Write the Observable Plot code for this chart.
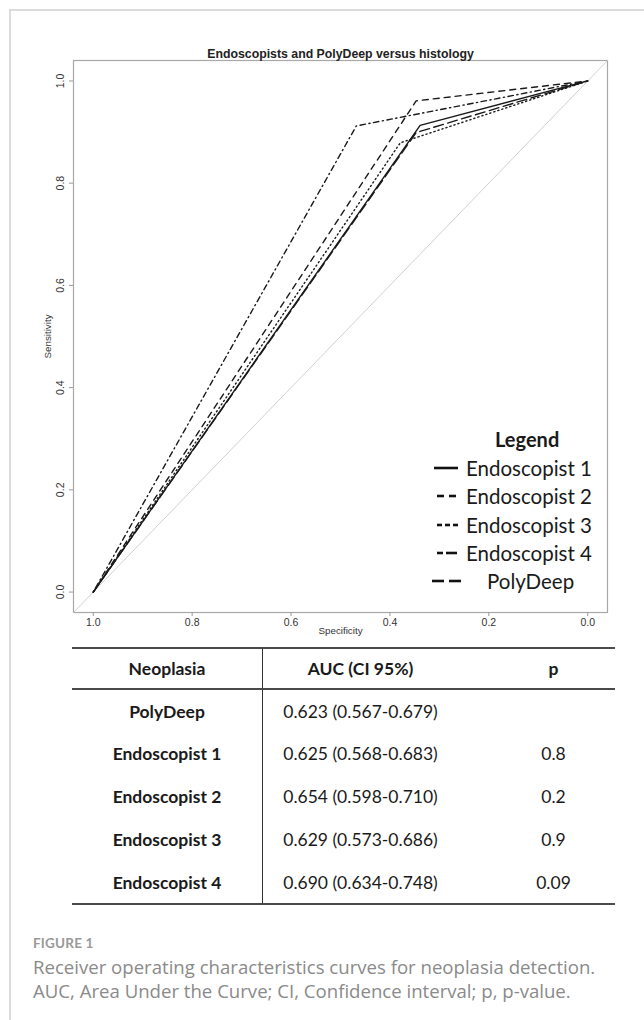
<!DOCTYPE html>
<html>
<head>
<meta charset="utf-8">
<script src="https://cdn.jsdelivr.net/npm/d3@7"></script>
<script src="https://cdn.jsdelivr.net/npm/@observablehq/plot@0.6"></script>
<style>
  html, body { margin: 0; padding: 0; background: #fff; }
  #page { position: relative; width: 644px; height: 1020px; overflow: hidden; }
  #border { position: absolute; left: 9px; top: 9px; width: 700px; height: 1100px; border: 2px solid #dcdcdc; box-sizing: border-box; }
  #chart { position: absolute; left: 0; top: 0; }
  #legend { position: absolute; left: 423px; top: 424px; width: 190px; font-family: Lato, "Open Sans", sans-serif; color: #1a1a1a; }
  #legend .title { font-weight: bold; font-size: 20px; height: 30px; line-height: 30px; padding-left: 72px; }
  #legend .item { height: 28.3px; line-height: 28.3px; font-size: 20.5px; display: flex; align-items: center; }
  #legend svg { width: 36px; height: 10px; margin-left: 4px; margin-right: 3px; overflow: hidden; }
  #table { position: absolute; left: 72px; top: 647px; width: 543px; border-collapse: collapse; font-family: Lato, "Open Sans", sans-serif; font-size: 17.5px; color: #1a1a1a; }
  #table th, #table td { padding: 0; }
  #table thead tr { height: 41px; }
  #table tbody tr { height: 43px; }
  #table thead th { border-top: 2px solid #4a4a4a; border-bottom: 2px solid #4a4a4a; font-weight: bold; }
  #table tbody tr:last-child td { border-bottom: 2px solid #4a4a4a; }
  #table .c1 { width: 190px; text-align: center; border-right: 1.5px solid #333; }
  #table td.c1 { font-weight: bold; }
  #table .c2 { width: 195px; text-align: center; }
  #table .c3 { text-align: center; padding-left: 34px; }
  #caption { position: absolute; left: 33px; top: 931px; font-family: "Open Sans", Lato, sans-serif; color: #8a8a8a; white-space: nowrap; }
  #caption .fig { font-family: Lato, sans-serif; font-size: 13.5px; font-weight: bold; letter-spacing: 0.2px; height: 24px; line-height: 24px; color: #999; }
  #caption .line { font-size: 18.6px; height: 24px; line-height: 24px; }
</style>
</head>
<body>
<div id="page">
  <div id="border"></div>
  <div id="chart"></div>
  <div id="legend"></div>
  <table id="table"></table>
  <div id="caption"></div>
</div>
<script>
// ---- Data ----
const series = ["Endoscopist 1", "Endoscopist 2", "Endoscopist 3", "Endoscopist 4", "PolyDeep"];
const elbowSpecificity = [0.339, 0.347, 0.379, 0.468, 0.347];
const elbowSensitivity = [0.913, 0.961, 0.879, 0.912, 0.899];
const axisTicks = [0, 0.2, 0.4, 0.6, 0.8, 1.0];

const tableModels = ["PolyDeep", "Endoscopist 1", "Endoscopist 2", "Endoscopist 3", "Endoscopist 4"];
const tableAUC = ["0.623 (0.567-0.679)", "0.625 (0.568-0.683)", "0.654 (0.598-0.710)", "0.629 (0.573-0.686)", "0.690 (0.634-0.748)"];
const tableP = ["", "0.8", "0.2", "0.9", "0.09"];
const tableHeader = ["Neoplasia", "AUC (CI 95%)", "p"];

const chartTitle = "Endoscopists and PolyDeep versus histology";
const captionLabel = "FIGURE 1";
const captionLines = [
  "Receiver operating characteristics curves for neoplasia detection.",
  "AUC, Area Under the Curve; CI, Confidence interval; p, p-value."
];

// ---- Styles (R lty equivalents) ----
const dashes = {
  "Endoscopist 1": null,
  "Endoscopist 2": "6,5",
  "Endoscopist 3": "1.2,3",
  "Endoscopist 4": "1.2,3.5,5.5,3.5",
  "PolyDeep": "10,4.5"
};
// legend glyph segments [start, end] within a 36px sample
const legendSegments = {
  "Endoscopist 1": [[7, 31]],
  "Endoscopist 2": [[10, 17], [22, 29]],
  "Endoscopist 3": [[10, 15], [18, 23], [26, 31]],
  "Endoscopist 4": [[10, 16], [19, 30]],
  "PolyDeep": [[5, 17], [22, 34]]
};

// ---- Build ROC point tables ----
const rocData = series.map((name, i) => [
  {name, spec: 1, sens: 0},
  {name, spec: elbowSpecificity[i], sens: elbowSensitivity[i]},
  {name, spec: 0, sens: 1}
]);

const xDomain = [1.04, -0.04];
const yDomain = [-0.04, 1.04];
const chance = [{spec: xDomain[0], sens: yDomain[0]}, {spec: xDomain[1], sens: yDomain[1]}];
const fmt = d3.format(".1f");
const font = "'Liberation Sans', Arial, Helvetica, sans-serif";

const marks = [
  Plot.frame({stroke: "#a8a8a8", strokeWidth: 1.2}),
  Plot.line(chance, {x: "spec", y: "sens", stroke: "#d0d0d0", strokeWidth: 1}),
  Plot.axisX({ticks: axisTicks, tickFormat: fmt, tickSize: 4, tickPadding: 2, fontSize: 10.5, stroke: "#999", fill: "#333", label: null}),
  Plot.axisY({ticks: axisTicks, tickFormat: () => "", tickSize: 4, stroke: "#999", label: null}),
  Plot.text(axisTicks, {y: d => d, text: d => fmt(d), frameAnchor: "left", textAnchor: "middle", dx: -13, rotate: -90, fontSize: 10.5, fill: "#333"}),
  Plot.text(["Specificity"], {text: d => d, frameAnchor: "bottom", textAnchor: "middle", dy: 21, fontSize: 9.8, fill: "#333"}),
  Plot.text(["Sensitivity"], {text: d => d, frameAnchor: "left", textAnchor: "middle", dx: -26, rotate: -90, fontSize: 9.8, fill: "#333"}),
  Plot.text([chartTitle], {text: d => d, frameAnchor: "top", textAnchor: "middle", lineAnchor: "bottom", dy: -3, fontSize: 12.3, fontWeight: "bold", fill: "#222"})
];
rocData.forEach((pts, i) => {
  const opts = {x: "spec", y: "sens", stroke: "#1a1a1a", strokeWidth: 1.4, strokeLinecap: "round"};
  const d = dashes[series[i]];
  if (d) opts.strokeDasharray = d;
  marks.push(Plot.line(pts, opts));
});

const plot = Plot.plot({
  width: 644,
  height: 645,
  marginLeft: 73,
  marginRight: 37,
  marginTop: 60,
  marginBottom: 33,
  style: {fontFamily: font, background: "transparent"},
  x: {domain: xDomain},
  y: {domain: yDomain},
  marks
});
document.getElementById("chart").appendChild(plot);

// ---- Legend ----
const legend = document.getElementById("legend");
legend.innerHTML = `<div class="title">Legend</div>` + series.map(name => {
  const segs = legendSegments[name].map(([a, b]) => `<line x1="${a}" x2="${b}" y1="5" y2="5" stroke="#111" stroke-width="2.6"/>`).join("");
  const isPD = name === "PolyDeep";
  return `<div class="item"><svg viewBox="0 0 36 10">${segs}</svg><span style="${isPD ? "padding-left:21px" : ""}">${name}</span></div>`;
}).join("");

// ---- Table ----
const table = document.getElementById("table");
table.innerHTML = `<thead><tr><th class="c1">${tableHeader[0]}</th><th class="c2">${tableHeader[1]}</th><th class="c3">${tableHeader[2]}</th></tr></thead><tbody>` +
  tableModels.map((m, i) => `<tr><td class="c1">${m}</td><td class="c2">${tableAUC[i]}</td><td class="c3">${tableP[i]}</td></tr>`).join("") +
  `</tbody>`;

// ---- Caption ----
document.getElementById("caption").innerHTML = `<div class="fig">${captionLabel}</div>` + captionLines.map(l => `<div class="line">${l}</div>`).join("");
</script>
</body>
</html>
